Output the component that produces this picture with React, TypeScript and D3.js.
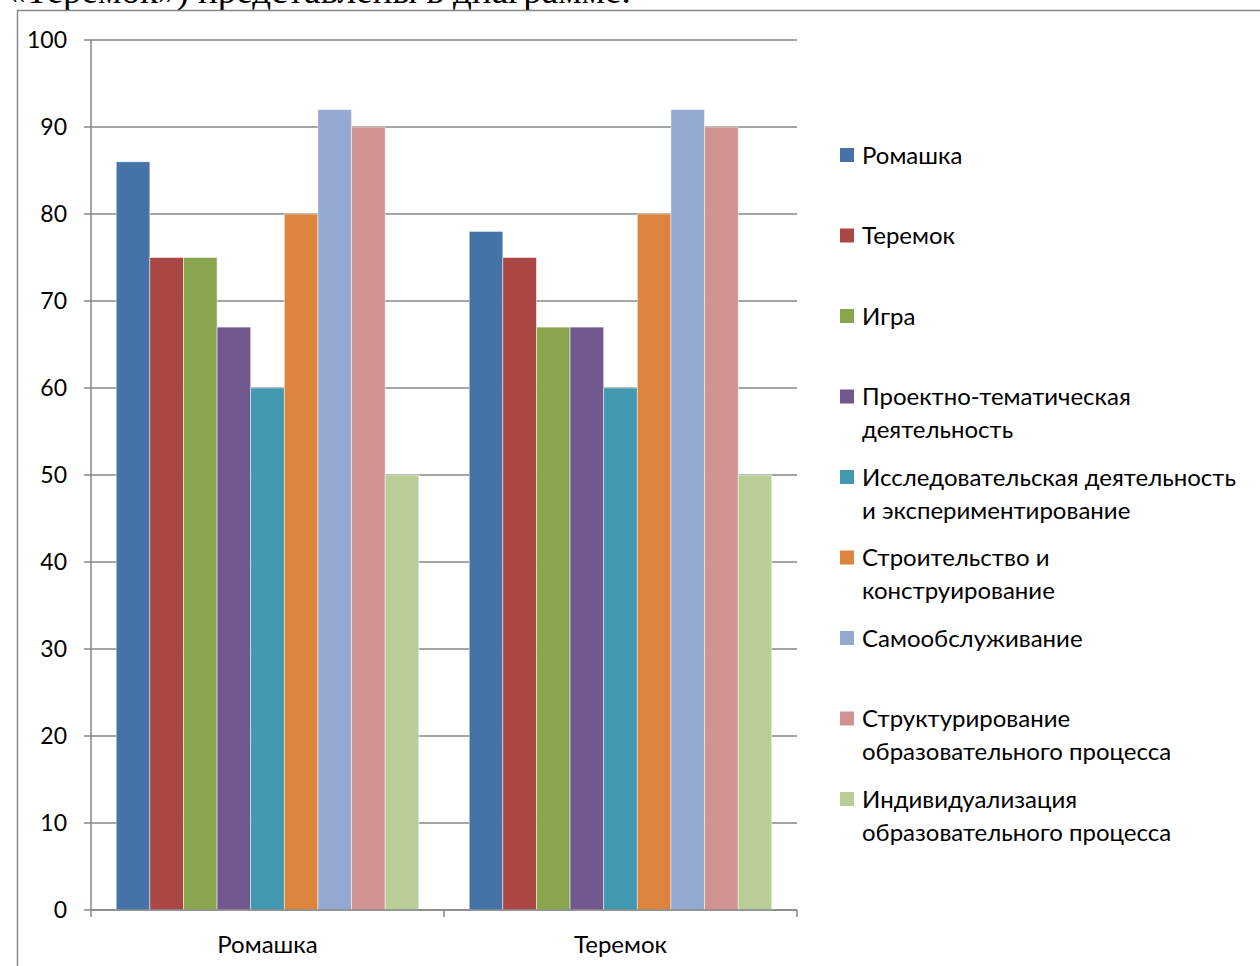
import React from 'react';
import * as d3 from 'd3';

const categories = ['Ромашка', 'Теремок'];
const seriesNames = [
  'Ромашка',
  'Теремок',
  'Игра',
  'Проектно-тематическая деятельность',
  'Исследовательская деятельность и экспериментирование',
  'Строительство и конструирование',
  'Самообслуживание',
  'Структурирование образовательного процесса',
  'Индивидуализация образовательного процесса',
];
const legendLines = [
  ['Ромашка'],
  ['Теремок'],
  ['Игра'],
  ['Проектно-тематическая', 'деятельность'],
  ['Исследовательская деятельность', 'и экспериментирование'],
  ['Строительство и', 'конструирование'],
  ['Самообслуживание'],
  ['Структурирование', 'образовательного процесса'],
  ['Индивидуализация', 'образовательного процесса'],
];
// values per category, in series order
const romashkaValues = [86, 75, 75, 67, 60, 80, 92, 90, 50];
const teremokValues = [78, 75, 67, 67, 60, 80, 92, 90, 50];
const yTicks = [0, 10, 20, 30, 40, 50, 60, 70, 80, 90, 100];
const colors = ['#4572A7', '#AA4643', '#89A54E', '#71588F', '#4198AF', '#DB843D', '#93A9CF', '#D19392', '#B9CD96'];

const W = 1260;
const H = 966;
const font = 'Lato, Calibri, "Open Sans", sans-serif';

const App: React.FC = () => {
  const valuesByCat = [romashkaValues, teremokValues];

  const x0 = d3.scaleBand<string>().domain(categories).range([91, 797]).padding(0);
  const x1 = d3
    .scaleBand<string>()
    .domain(seriesNames)
    .range([0, x0.bandwidth()])
    .paddingInner(0)
    .paddingOuter(0.75);
  const y = d3.scaleLinear().domain([0, 100]).range([910, 40]);
  const color = d3.scaleOrdinal<string, string>().domain(seriesNames).range(colors);

  const legendY = d3.scaleLinear().domain([0, 8]).range([155, 799]);

  return (
    <div style={{ position: 'absolute', left: 0, top: 0 }}>
      <svg width={W} height={H} style={{ display: 'block', background: '#fff' }}>
        {/* text line of the page, cut at the top */}
        <text x={7} y={3} fontFamily='"Liberation Serif", "Times New Roman", serif' fontSize={37} fill="#000">
          «Теремок») представлены в диаграмме.
        </text>

        {/* chart border */}
        <rect x={17.5} y={10.5} width={1300} height={1000} fill="none" stroke="#878787" strokeWidth={1.5} />

        {/* gridlines + y ticks */}
        {yTicks.map((t) => (
          <g key={t}>
            <line x1={84} x2={797} y1={y(t)} y2={y(t)} stroke="#878787" strokeWidth={1.3} />
            <text x={67} y={y(t)} dy="0.36em" textAnchor="end" fontFamily={font} fontSize={23} fill="#000">
              {t}
            </text>
          </g>
        ))}

        {/* bars */}
        {categories.map((c, ci) => (
          <g key={c} transform={`translate(${x0(c)},0)`}>
            {seriesNames.map((s, si) => {
              const v = valuesByCat[ci][si];
              return (
                <rect
                  key={s}
                  x={x1(s)}
                  y={y(v)}
                  width={x1.bandwidth()}
                  height={y(0) - y(v)}
                  fill={color(s)}
                  stroke="#ffffff"
                  strokeOpacity={0.6}
                  strokeWidth={0.8}
                />
              );
            })}
          </g>
        ))}

        {/* y axis line */}
        <line x1={91} x2={91} y1={y(100)} y2={y(0)} stroke="#878787" strokeWidth={1.5} />
        {/* x axis line */}
        <line x1={91} x2={797} y1={y(0)} y2={y(0)} stroke="#878787" strokeWidth={1.5} />
        {[...categories.map((c) => x0(c) as number), 797].map((xv, i) => (
          <line key={i} x1={xv} x2={xv} y1={y(0)} y2={y(0) + 7} stroke="#878787" strokeWidth={1.5} />
        ))}
        {categories.map((c) => (
          <text
            key={c}
            x={(x0(c) as number) + x0.bandwidth() / 2}
            y={944}
            dy="0.36em"
            textAnchor="middle"
            fontFamily={font}
            fontSize={24}
            fill="#000"
          >
            {c}
          </text>
        ))}

        {/* legend */}
        {seriesNames.map((s, i) => {
          const cy = legendY(i);
          return (
            <g key={s}>
              <rect x={840} y={cy - 7} width={14} height={14} fill={color(s)} />
              {legendLines[i].map((ln, li) => (
                <text
                  key={li}
                  x={862}
                  y={cy + li * 33}
                  dy="0.36em"
                  fontFamily={font}
                  fontSize={24}
                  fill="#000"
                >
                  {ln}
                </text>
              ))}
            </g>
          );
        })}
      </svg>
    </div>
  );
};

export default App;
